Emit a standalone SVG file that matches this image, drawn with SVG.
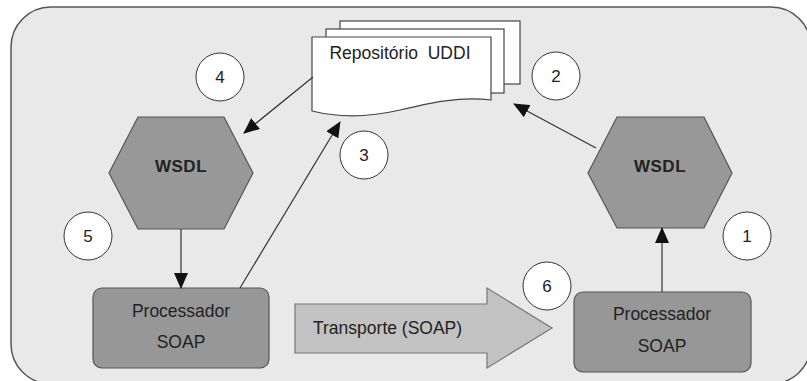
<svg xmlns="http://www.w3.org/2000/svg" width="807" height="381" viewBox="0 0 807 381">
  <style>
    text { font-family: "Liberation Sans", Arial, sans-serif; fill: #222; }
    .lbl { font-size: 17.5px; text-anchor: middle; }
    .hex { fill: #989898; stroke: #555; stroke-width: 1.2; }
    .proc { fill: #979797; stroke: #555; stroke-width: 1.2; }
    .page { fill: #fff; stroke: #444; stroke-width: 1.2; }
    .num { fill: #fff; stroke: #333; stroke-width: 1; }
    .numt { font-size: 17px; text-anchor: middle; }
    .wsdl { font-size: 17px; font-weight: bold; text-anchor: middle; letter-spacing: 0.5px; }
    .conn { stroke: #333; stroke-width: 1.2; fill: none; marker-end: url(#ah); }
  </style>
  <defs>
    <marker id="ah" markerUnits="userSpaceOnUse" markerWidth="16" markerHeight="14" refX="15" refY="7" orient="auto">
      <path d="M0,0 L16,7 L0,14 Z" fill="#111"/>
    </marker>
  </defs>

  <rect x="11" y="7" width="800" height="377" rx="40" ry="40" fill="#e9e9e9" stroke="#555" stroke-width="1.5"/>

  <g id="uddi">
    <rect class="page" x="340" y="21" width="180" height="63"/>
    <rect class="page" x="326" y="29" width="178" height="64"/>
    <path class="page" d="M312,37 H491 V100 C460,96 430,103 400,110 C370,117 340,118 312,111 Z"/>
    <text class="lbl" x="400" y="59" style="white-space:pre">Repositório  UDDI</text>
  </g>

  <g id="wsdl-left">
    <polygon class="hex" points="138,117 224,117 253,173 224,229 138,229 109,173"/>
    <text class="wsdl" x="181" y="172">WSDL</text>
  </g>

  <g id="wsdl-right">
    <polygon class="hex" points="617,117 704,117 732,173 704,228 617,228 588,173"/>
    <text class="wsdl" x="660" y="172">WSDL</text>
  </g>

  <g id="soap-left">
    <rect class="proc" x="93" y="288" width="176" height="80" rx="9"/>
    <text class="lbl" x="181" y="317">Processador</text>
    <text class="lbl" x="181" y="348">SOAP</text>
  </g>

  <g id="soap-right">
    <rect class="proc" x="574" y="292" width="177" height="80" rx="9"/>
    <text class="lbl" x="662" y="320">Processador</text>
    <text class="lbl" x="662" y="352">SOAP</text>
  </g>

  <g id="transporte">
    <polygon points="295,304 487,304 487,288 552,328 487,368 487,353 295,353" fill="#c2c2c2" stroke="#777" stroke-width="1.2"/>
    <text x="313" y="334" style="font-size:17.5px">Transporte (SOAP)</text>
  </g>

  <g id="n1"><circle class="num" cx="747" cy="236" r="24"/><text class="numt" x="747" y="242">1</text></g>
  <g id="n2"><circle class="num" cx="556" cy="76" r="24"/><text class="numt" x="556" y="82">2</text></g>
  <g id="n3"><circle class="num" cx="364" cy="155" r="24"/><text class="numt" x="364" y="161">3</text></g>
  <g id="n4"><circle class="num" cx="220" cy="77" r="24"/><text class="numt" x="220" y="83">4</text></g>
  <g id="n5"><circle class="num" cx="88" cy="236" r="24"/><text class="numt" x="88" y="242">5</text></g>
  <g id="n6"><circle class="num" cx="547" cy="286" r="24"/><text class="numt" x="547" y="292">6</text></g>

  <g id="connectors">
    <line class="conn" x1="313" y1="77" x2="244" y2="133"/>
    <line class="conn" x1="596" y1="148" x2="514" y2="104"/>
    <line class="conn" x1="240" y1="288" x2="340" y2="122"/>
    <line class="conn" x1="181" y1="229" x2="181" y2="288"/>
    <line class="conn" x1="662" y1="292" x2="662" y2="228"/>
  </g>
</svg>
